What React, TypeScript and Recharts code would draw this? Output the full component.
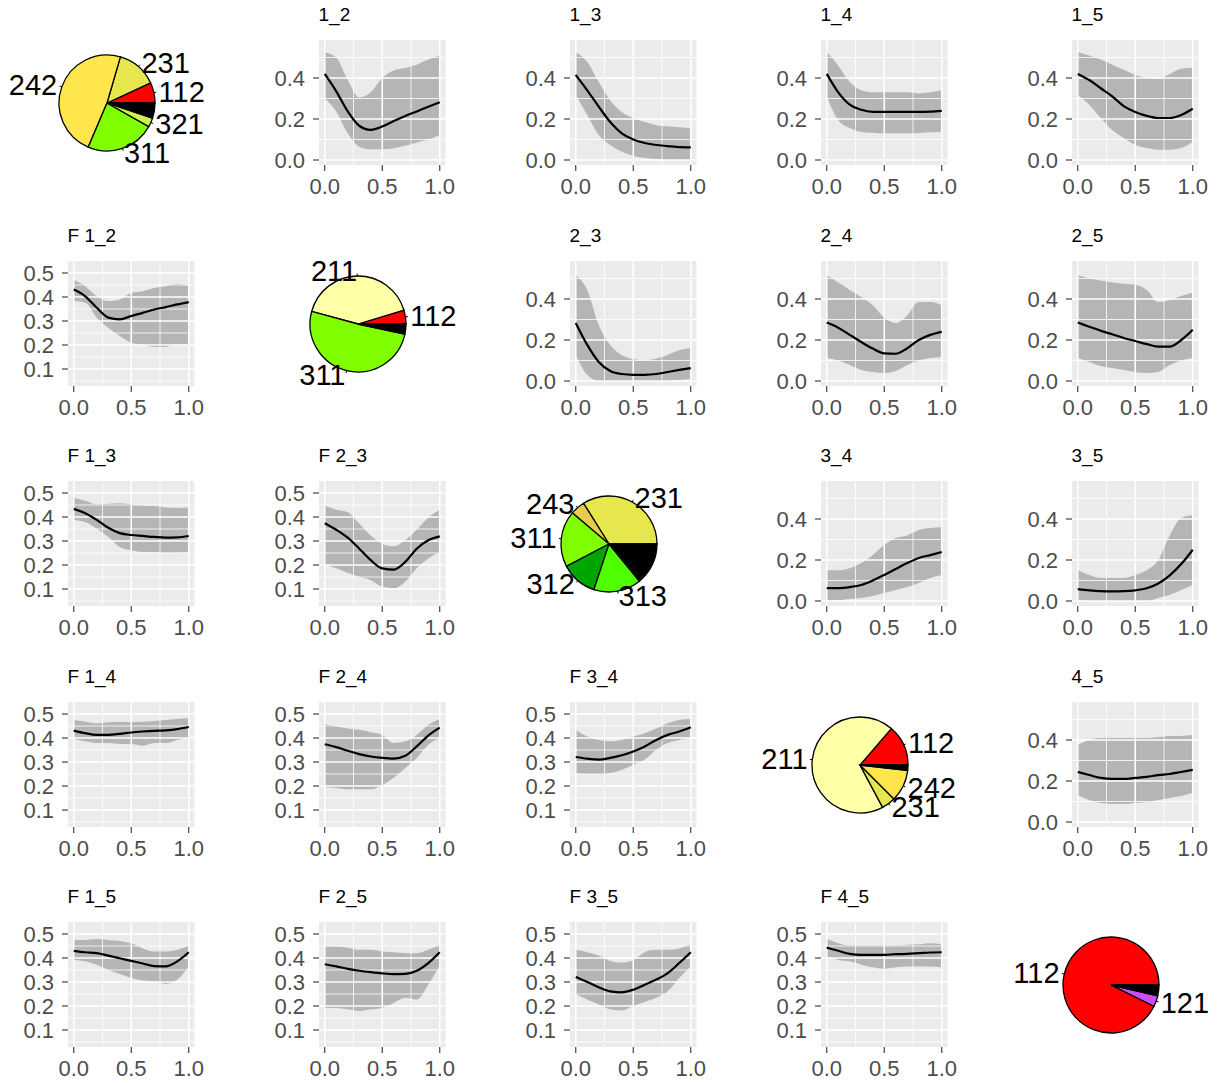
import React from 'react';
import {
  ComposedChart,
  Area,
  Line,
  XAxis,
  YAxis,
  CartesianGrid,
  ReferenceLine,
  PieChart,
  Pie,
  Cell,
} from 'recharts';

// x positions of the smoothed curves
const xs = [0, 0.1, 0.2, 0.3, 0.4, 0.5, 0.6, 0.7, 0.8, 0.9, 1.0];

// upper triangle (i_j)
const m12 = [0.42, 0.335, 0.237, 0.167, 0.147, 0.163, 0.19, 0.215, 0.237, 0.26, 0.282];
const hi12 = [0.526, 0.5, 0.39, 0.305, 0.33, 0.4, 0.437, 0.449, 0.465, 0.49, 0.51];
const lo12 = [0.3, 0.237, 0.13, 0.065, 0.052, 0.052, 0.057, 0.069, 0.085, 0.1, 0.122];

const m13 = [0.415, 0.34, 0.26, 0.185, 0.13, 0.1, 0.083, 0.073, 0.068, 0.063, 0.062];
const hi13 = [0.527, 0.478, 0.38, 0.29, 0.234, 0.205, 0.185, 0.17, 0.165, 0.16, 0.156];
const lo13 = [0.317, 0.22, 0.122, 0.073, 0.04, 0.02, 0.01, 0.005, 0, 0, 0];

const m14 = [0.42, 0.33, 0.27, 0.245, 0.235, 0.235, 0.235, 0.235, 0.235, 0.236, 0.24];
const hi14 = [0.527, 0.46, 0.38, 0.34, 0.33, 0.33, 0.33, 0.33, 0.325, 0.33, 0.34];
const lo14 = [0.31, 0.195, 0.156, 0.137, 0.133, 0.13, 0.13, 0.13, 0.132, 0.135, 0.137];

const m15 = [0.42, 0.39, 0.35, 0.31, 0.263, 0.234, 0.215, 0.205, 0.205, 0.22, 0.25];
const hi15 = [0.527, 0.51, 0.49, 0.465, 0.44, 0.415, 0.4, 0.395, 0.42, 0.445, 0.45];
const lo15 = [0.317, 0.27, 0.205, 0.146, 0.107, 0.073, 0.058, 0.05, 0.05, 0.058, 0.088];

const m23 = [0.283, 0.176, 0.093, 0.049, 0.034, 0.03, 0.03, 0.034, 0.044, 0.054, 0.063];
const hi23 = [0.517, 0.444, 0.273, 0.176, 0.127, 0.107, 0.1, 0.11, 0.127, 0.15, 0.16];
const lo23 = [0.127, 0.03, 0, 0, 0, 0, 0, 0, 0, 0.005, 0.01];

const m24 = [0.285, 0.26, 0.225, 0.19, 0.158, 0.135, 0.133, 0.16, 0.2, 0.225, 0.24];
const hi24 = [0.517, 0.48, 0.444, 0.41, 0.37, 0.31, 0.283, 0.32, 0.385, 0.385, 0.37];
const lo24 = [0.112, 0.1, 0.078, 0.054, 0.044, 0.039, 0.049, 0.078, 0.1, 0.112, 0.117];

const m25 = [0.285, 0.265, 0.245, 0.228, 0.21, 0.195, 0.18, 0.168, 0.168, 0.2, 0.25];
const hi25 = [0.517, 0.5, 0.49, 0.48, 0.475, 0.47, 0.444, 0.385, 0.395, 0.415, 0.43];
const lo25 = [0.112, 0.093, 0.073, 0.063, 0.054, 0.044, 0.039, 0.044, 0.078, 0.1, 0.112];

const m34 = [0.063, 0.063, 0.068, 0.078, 0.1, 0.127, 0.156, 0.185, 0.21, 0.224, 0.239];
const hi34 = [0.15, 0.15, 0.16, 0.185, 0.224, 0.273, 0.307, 0.32, 0.346, 0.356, 0.36];
const lo34 = [0.005, 0.005, 0.01, 0.015, 0.024, 0.039, 0.054, 0.068, 0.088, 0.112, 0.127];

const m35 = [0.058, 0.052, 0.048, 0.047, 0.048, 0.052, 0.062, 0.085, 0.125, 0.18, 0.25];
const hi35 = [0.15, 0.127, 0.112, 0.112, 0.112, 0.127, 0.15, 0.2, 0.32, 0.405, 0.42];
const lo35 = [0.005, 0, 0, 0, 0, 0, 0, 0.015, 0.03, 0.054, 0.078];

const m45 = [0.244, 0.229, 0.215, 0.21, 0.21, 0.215, 0.22, 0.229, 0.234, 0.244, 0.254];
const hi45 = [0.376, 0.4, 0.41, 0.41, 0.41, 0.41, 0.41, 0.415, 0.42, 0.42, 0.424];
const lo45 = [0.132, 0.107, 0.093, 0.088, 0.088, 0.093, 0.098, 0.107, 0.117, 0.127, 0.141];

// lower triangle (F i_j)
const f12 = [0.431, 0.403, 0.355, 0.314, 0.307, 0.321, 0.334, 0.348, 0.358, 0.369, 0.379];
const fhi12 = [0.472, 0.445, 0.403, 0.383, 0.39, 0.417, 0.424, 0.438, 0.445, 0.454, 0.445];
const flo12 = [0.383, 0.376, 0.314, 0.272, 0.238, 0.21, 0.2, 0.192, 0.192, 0.203, 0.2];

const f13 = [0.434, 0.416, 0.388, 0.355, 0.333, 0.325, 0.321, 0.317, 0.314, 0.315, 0.321];
const fhi13 = [0.479, 0.468, 0.452, 0.455, 0.457, 0.452, 0.448, 0.446, 0.44, 0.438, 0.44];
const flo13 = [0.388, 0.379, 0.351, 0.317, 0.275, 0.261, 0.254, 0.254, 0.252, 0.252, 0.254];

const f23 = [0.374, 0.347, 0.314, 0.268, 0.22, 0.186, 0.181, 0.213, 0.268, 0.303, 0.319];
const fhi23 = [0.448, 0.43, 0.42, 0.372, 0.323, 0.289, 0.278, 0.303, 0.347, 0.397, 0.43];
const flo23 = [0.203, 0.186, 0.168, 0.151, 0.137, 0.11, 0.103, 0.13, 0.186, 0.227, 0.254];

const f14 = [0.431, 0.42, 0.413, 0.413, 0.417, 0.423, 0.427, 0.43, 0.432, 0.437, 0.446];
const fhi14 = [0.475, 0.468, 0.461, 0.466, 0.468, 0.466, 0.468, 0.471, 0.475, 0.479, 0.482];
const flo14 = [0.397, 0.386, 0.379, 0.379, 0.375, 0.375, 0.368, 0.379, 0.379, 0.392, 0.402];

const f24 = [0.374, 0.362, 0.347, 0.333, 0.323, 0.317, 0.314, 0.326, 0.365, 0.41, 0.443];
const fhi24 = [0.457, 0.448, 0.44, 0.434, 0.424, 0.413, 0.379, 0.386, 0.413, 0.454, 0.479];
const flo24 = [0.195, 0.192, 0.186, 0.186, 0.186, 0.203, 0.234, 0.275, 0.317, 0.372, 0.399];

const f34 = [0.321, 0.314, 0.31, 0.317, 0.328, 0.344, 0.365, 0.392, 0.413, 0.427, 0.445];
const fhi34 = [0.434, 0.406, 0.392, 0.386, 0.392, 0.406, 0.42, 0.44, 0.461, 0.475, 0.479];
const flo34 = [0.254, 0.25, 0.25, 0.254, 0.268, 0.289, 0.31, 0.351, 0.379, 0.392, 0.402];

const f15 = [0.43, 0.424, 0.42, 0.41, 0.399, 0.388, 0.377, 0.366, 0.365, 0.386, 0.424];
const fhi15 = [0.475, 0.475, 0.479, 0.475, 0.471, 0.461, 0.44, 0.427, 0.427, 0.434, 0.452];
const flo15 = [0.392, 0.386, 0.372, 0.351, 0.333, 0.317, 0.306, 0.303, 0.292, 0.31, 0.365];

const f25 = [0.374, 0.365, 0.355, 0.347, 0.341, 0.336, 0.333, 0.334, 0.347, 0.379, 0.424];
const fhi25 = [0.448, 0.448, 0.443, 0.434, 0.434, 0.427, 0.424, 0.42, 0.42, 0.434, 0.454];
const flo25 = [0.192, 0.192, 0.186, 0.179, 0.186, 0.192, 0.213, 0.234, 0.227, 0.289, 0.369];

const f35 = [0.321, 0.3, 0.278, 0.261, 0.257, 0.268, 0.289, 0.31, 0.337, 0.379, 0.424];
const fhi35 = [0.434, 0.424, 0.41, 0.388, 0.381, 0.392, 0.424, 0.434, 0.434, 0.44, 0.457];
const flo35 = [0.25, 0.227, 0.206, 0.186, 0.181, 0.2, 0.217, 0.234, 0.261, 0.317, 0.365];

const f45 = [0.443, 0.43, 0.417, 0.413, 0.413, 0.413, 0.416, 0.417, 0.42, 0.423, 0.424];
const fhi45 = [0.479, 0.461, 0.452, 0.452, 0.452, 0.452, 0.452, 0.455, 0.457, 0.461, 0.457];
const flo45 = [0.406, 0.392, 0.386, 0.372, 0.361, 0.355, 0.361, 0.365, 0.365, 0.365, 0.361];

// diagonal pies: land cover codes and shares ('' = unlabelled black slice)
const pie1Codes = ['112', '231', '242', '311', '321', ''];
const pie1Shares = [0.069, 0.136, 0.481, 0.232, 0.031, 0.051];
const pie2Codes = ['112', '211', '311', ''];
const pie2Shares = [0.047, 0.411, 0.508, 0.034];
const pie3Codes = ['231', '243', '311', '312', '313', ''];
const pie3Shares = [0.339, 0.049, 0.189, 0.122, 0.16, 0.141];
const pie4Codes = ['112', '211', '231', '242', ''];
const pie4Shares = [0.137, 0.691, 0.047, 0.107, 0.018];
const pie5Codes = ['112', '121', ''];
const pie5Shares = [0.927, 0.037, 0.036];

const CODE_COLORS: Record<string, string> = {
  '112': '#FF0000',
  '121': '#CC4DF2',
  '211': '#FFFFA8',
  '231': '#E6E64D',
  '242': '#FFE64D',
  '243': '#E6CC4D',
  '311': '#80FF00',
  '312': '#00A600',
  '313': '#4DFF00',
  '321': '#CCF24D',
  '': '#000000',
};

const FONT = '"Liberation Sans", Arial, Helvetica, sans-serif';
const COL_STEP = 251;
const ROW_STEP = 220.5;
const PLOT_W = 126.5;
const PLOT_H = 125;
const Y_AXIS_W = 62;

const smoothPanels = [
  { title: '1_2', row: 0, col: 1, f: false, mid: m12, lo: lo12, hi: hi12 },
  { title: '1_3', row: 0, col: 2, f: false, mid: m13, lo: lo13, hi: hi13 },
  { title: '1_4', row: 0, col: 3, f: false, mid: m14, lo: lo14, hi: hi14 },
  { title: '1_5', row: 0, col: 4, f: false, mid: m15, lo: lo15, hi: hi15 },
  { title: '2_3', row: 1, col: 2, f: false, mid: m23, lo: lo23, hi: hi23 },
  { title: '2_4', row: 1, col: 3, f: false, mid: m24, lo: lo24, hi: hi24 },
  { title: '2_5', row: 1, col: 4, f: false, mid: m25, lo: lo25, hi: hi25 },
  { title: '3_4', row: 2, col: 3, f: false, mid: m34, lo: lo34, hi: hi34 },
  { title: '3_5', row: 2, col: 4, f: false, mid: m35, lo: lo35, hi: hi35 },
  { title: '4_5', row: 3, col: 4, f: false, mid: m45, lo: lo45, hi: hi45 },
  { title: 'F 1_2', row: 1, col: 0, f: true, mid: f12, lo: flo12, hi: fhi12 },
  { title: 'F 1_3', row: 2, col: 0, f: true, mid: f13, lo: flo13, hi: fhi13 },
  { title: 'F 2_3', row: 2, col: 1, f: true, mid: f23, lo: flo23, hi: fhi23 },
  { title: 'F 1_4', row: 3, col: 0, f: true, mid: f14, lo: flo14, hi: fhi14 },
  { title: 'F 2_4', row: 3, col: 1, f: true, mid: f24, lo: flo24, hi: fhi24 },
  { title: 'F 3_4', row: 3, col: 2, f: true, mid: f34, lo: flo34, hi: fhi34 },
  { title: 'F 1_5', row: 4, col: 0, f: true, mid: f15, lo: flo15, hi: fhi15 },
  { title: 'F 2_5', row: 4, col: 1, f: true, mid: f25, lo: flo25, hi: fhi25 },
  { title: 'F 3_5', row: 4, col: 2, f: true, mid: f35, lo: flo35, hi: fhi35 },
  { title: 'F 4_5', row: 4, col: 3, f: true, mid: f45, lo: flo45, hi: fhi45 },
];

const pies = [
  { codes: pie1Codes, shares: pie1Shares },
  { codes: pie2Codes, shares: pie2Shares },
  { codes: pie3Codes, shares: pie3Shares },
  { codes: pie4Codes, shares: pie4Shares },
  { codes: pie5Codes, shares: pie5Shares },
];

const X_MAJOR = [0, 0.5, 1];
const X_MINOR = [0.25, 0.75];

function SmoothPanel({ title, row, col, f, mid, lo, hi }: any) {
  const data = xs.map((x, i) => ({ x, mid: mid[i], band: [lo[i], hi[i]] }));
  const plotLeft = 67.5 + COL_STEP * col;
  const plotTop = 40 + ROW_STEP * row;
  const domain = f ? [0.0292, 0.55] : [-0.0244, 0.5854];
  const yMajor = f ? [0.1, 0.2, 0.3, 0.4, 0.5] : [0, 0.2, 0.4];
  const yMinor = f ? [0.05, 0.15, 0.25, 0.35, 0.45] : [0.1, 0.3, 0.5];
  const tickStyle = { fill: '#4D4D4D', fontSize: 22, fontFamily: FONT };

  return (
    <>
      <div
        style={{
          position: 'absolute',
          left: plotLeft,
          top: plotTop - 34,
          fontSize: 19,
          lineHeight: '18px',
          color: '#000',
          whiteSpace: 'nowrap',
        }}
      >
        {title}
      </div>
      <div style={{ position: 'absolute', left: plotLeft - Y_AXIS_W, top: plotTop - 5 }}>
        <ComposedChart
          width={Y_AXIS_W + PLOT_W + 12}
          height={5 + PLOT_H + 40}
          data={data}
          margin={{ top: 5, right: 12, bottom: 0, left: 0 }}
        >
          <CartesianGrid fill="#EBEBEB" horizontal={false} vertical={false} stroke="none" />
          {X_MINOR.map((v) => (
            <ReferenceLine key={`xm${v}`} x={v} stroke="#FFFFFF" strokeWidth={0.8} />
          ))}
          {yMinor.map((v) => (
            <ReferenceLine key={`ym${v}`} y={v} stroke="#FFFFFF" strokeWidth={0.8} />
          ))}
          {X_MAJOR.map((v) => (
            <ReferenceLine key={`xM${v}`} x={v} stroke="#FFFFFF" strokeWidth={1.6} />
          ))}
          {yMajor.map((v) => (
            <ReferenceLine key={`yM${v}`} y={v} stroke="#FFFFFF" strokeWidth={1.6} />
          ))}
          <XAxis
            dataKey="x"
            type="number"
            domain={[-0.05, 1.05]}
            ticks={X_MAJOR}
            interval={0}
            tickFormatter={(v: number) => v.toFixed(1)}
            axisLine={false}
            tickLine={{ stroke: '#333333', strokeWidth: 1.1 }}
            tickSize={6}
            tickMargin={7}
            tick={tickStyle}
            height={40}
            allowDataOverflow
          />
          <YAxis
            type="number"
            domain={domain}
            ticks={yMajor}
            interval={0}
            tickFormatter={(v: number) => v.toFixed(1)}
            axisLine={false}
            tickLine={{ stroke: '#333333', strokeWidth: 1.1 }}
            tickSize={6}
            tickMargin={8}
            tick={tickStyle}
            width={Y_AXIS_W}
            allowDataOverflow
          />
          <Area
            dataKey="band"
            type="monotone"
            stroke="none"
            fill="#808080"
            fillOpacity={0.5}
            isAnimationActive={false}
          />
          <Line
            dataKey="mid"
            type="monotone"
            stroke="#000000"
            strokeWidth={2.2}
            dot={false}
            isAnimationActive={false}
          />
        </ComposedChart>
      </div>
    </>
  );
}

const renderPieLabel = (props: any) => {
  const { cx, cy, midAngle, outerRadius } = props;
  const name = props.payload?.name ?? props.name;
  if (!name) return <g />;
  const rad = (-midAngle * Math.PI) / 180;
  const cos = Math.cos(rad);
  const sin = Math.sin(rad);
  return (
    <g>
      <line
        x1={cx + outerRadius * cos}
        y1={cy + outerRadius * sin}
        x2={cx + 1.05 * outerRadius * cos}
        y2={cy + 1.05 * outerRadius * sin}
        stroke="#000"
        strokeWidth={1}
      />
      <text
        x={cx + 1.1 * outerRadius * cos}
        y={cy + 1.1 * outerRadius * sin}
        textAnchor={cos < 0 ? 'end' : 'start'}
        dominantBaseline="central"
        fontSize={29}
        fontFamily={FONT}
        fill="#000"
      >
        {name}
      </text>
    </g>
  );
};

function PiePanel({ idx, codes, shares }: any) {
  const data = codes.map((c: string, i: number) => ({ name: c, value: shares[i] }));
  const cx = 107 + COL_STEP * idx;
  const cy = 103 + ROW_STEP * idx;
  return (
    <div style={{ position: 'absolute', left: cx - 125, top: cy - 110 }}>
      <PieChart width={250} height={220} margin={{ top: 0, right: 0, bottom: 0, left: 0 }}>
        <Pie
          data={data}
          dataKey="value"
          nameKey="name"
          cx={125}
          cy={110}
          outerRadius={48}
          startAngle={0}
          endAngle={360}
          stroke="#000"
          strokeWidth={1.3}
          labelLine={false}
          label={renderPieLabel}
          isAnimationActive={false}
        >
          {data.map((d: any, i: number) => (
            <Cell key={`c-${i}`} fill={CODE_COLORS[d.name]} />
          ))}
        </Pie>
      </PieChart>
    </div>
  );
}

export default function App() {
  return (
    <div
      style={{
        position: 'absolute',
        left: 0,
        top: 0,
        width: 1222,
        height: 1083,
        background: '#FFFFFF',
        fontFamily: FONT,
        overflow: 'hidden',
      }}
    >
      {smoothPanels.map((p) => (
        <SmoothPanel key={p.title} {...p} />
      ))}
      {pies.map((p, i) => (
        <PiePanel key={`pie${i}`} idx={i} codes={p.codes} shares={p.shares} />
      ))}
    </div>
  );
}
